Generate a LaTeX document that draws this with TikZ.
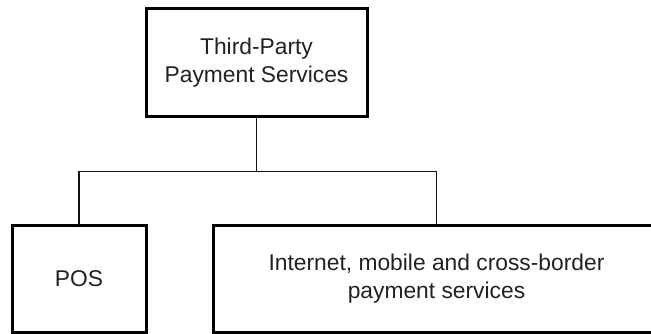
\documentclass[tikz,border=0pt]{standalone}
\usepackage{fontspec}
\setmainfont{Liberation Sans}
\usetikzlibrary{calc}
\definecolor{chartborder}{HTML}{000000}
\definecolor{charttext}{HTML}{222222}
\definecolor{chartline}{HTML}{111111}
\tikzset{
  chart unit/.style={
    rectangle, draw=chartborder, fill=white, text=charttext,
    line width=3pt, inner sep=4pt,
    minimum height=107pt,
    font=\fontsize{22.8}{28}\selectfont, align=center
  },
  chart line/.style={
    draw=chartline, line width=1.3pt, line cap=rect
  }
}

\begin{document}
\begin{tikzpicture}[x=1pt,y=-1pt]
  \clip (0,0) rectangle (651,334);
  \node[chart unit,minimum width=221pt,minimum height=108pt] (thirdparty) at (256.5,63) {Third-Party\\Payment Services};
  \node[chart unit,minimum width=134pt] (pos) at (79,279) {POS};
  \node[chart unit,minimum width=447pt] (online) at (436.5,279) {Internet, mobile and cross-border\\payment services};
  \coordinate (fork) at (256.5,171.5);

  \draw[chart line] (thirdparty.south) -- (fork);
  \draw[chart line] (pos.north) |- (fork) -| (online.north);
\end{tikzpicture}
\end{document}
